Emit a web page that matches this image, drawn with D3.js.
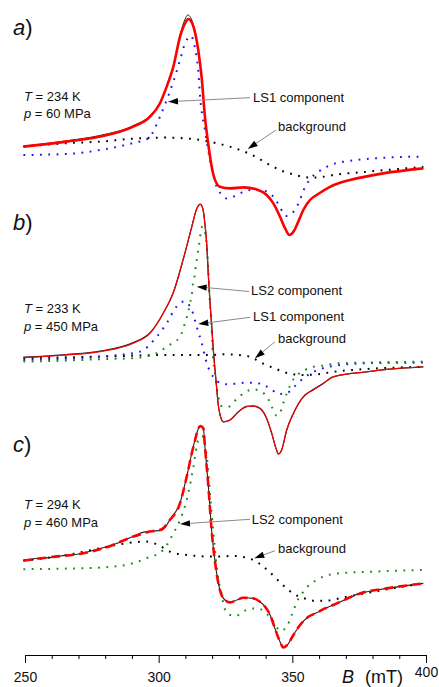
<!DOCTYPE html>
<html><head><meta charset="utf-8">
<script src="https://cdn.jsdelivr.net/npm/d3@7"></script>
<style>
html,body{margin:0;padding:0;background:#fff;}
svg{display:block;font-family:"Liberation Sans",Arial,sans-serif;}
</style></head>
<body><svg id="chart" width="439" height="687"></svg>
<script>
// ---- Data: [B (mT), intensity (a.u.)] ----
// panel a) T = 234 K, p = 60 MPa
const aExp = [[249.4,6.9],[265.6,9.6],[278.1,12.3],[290.5,17.2],[296.8,22.2],[300.5,28.8],[303.0,37],[305.5,47.2],[308.0,62.5],[309.9,70.5],[310.9,72.5],[313.0,67.5],[314.8,55.5],[316.1,41],[317.3,21.7],[318.6,7.5],[320.4,-7],[322.9,-13.4],[326.7,-14.2],[331.7,-13.7],[336.7,-14.7],[340.4,-17.5],[342.9,-21.7],[345.4,-28.4],[347.3,-34.2],[348.9,-37.5],[350.4,-35.9],[352.2,-30.9],[354.1,-25],[356.6,-20],[359.1,-17.5],[364.1,-13.4],[367.8,-11.4],[371.6,-10],[384.0,-6.7],[399.0,-4.2]];
const aFit = [[249.4,6.7],[265.6,9.2],[278.1,11.7],[290.5,16.7],[296.8,21.7],[300.5,28.4],[303.0,36.7],[305.5,46.7],[308.0,61.7],[309.9,68.4],[311.1,70.5],[313.0,66.7],[314.8,55],[316.1,41],[317.3,21.7],[318.6,7.5],[320.4,-7],[322.9,-13.4],[326.7,-14.2],[331.7,-13.7],[336.7,-14.7],[340.4,-17.5],[342.9,-21.7],[345.4,-28.4],[347.3,-34.2],[348.9,-37.5],[350.4,-35.9],[352.2,-30.9],[354.1,-25],[356.6,-20],[359.1,-17.5],[364.1,-13.4],[367.8,-11.4],[371.6,-10],[384.0,-6.7],[399.0,-4.2]];
const aLS1 = [[249.4,2.5],[265.6,3],[278.1,5],[290.5,8.5],[296.1,10.8],[298.6,15.8],[300.5,21.7],[303.0,30],[305.5,39.2],[308.0,50],[309.9,58.4],[312.0,62],[313.6,56],[314.8,45],[315.5,31.7],[317.3,15],[319.2,0],[321.7,-13.4],[323.3,-17],[325.4,-19.2],[328.7,-17.9],[331.7,-15.9],[334.8,-15],[337.9,-15],[341.0,-16.2],[343.8,-20],[345.6,-24.2],[347.6,-28],[350.4,-25.9],[352.2,-22],[354.7,-13.7],[356.6,-9.7],[359.7,-5.9],[362.9,-3.4],[366.0,-1.7],[369.0,-0.9],[381.6,0.9],[397.8,1.7]];
const aBg = [[249.4,6.7],[265.6,8.4],[278.1,9.2],[293.0,10.9],[303.0,11.2],[315.5,10],[321.7,8.4],[327.3,6.4],[330.4,5],[333.5,3.4],[336.7,1.4],[339.8,-1.2],[342.9,-3.4],[346.0,-5.4],[349.1,-6.7],[352.2,-7.9],[356.6,-8.8],[361.6,-8.4],[365.3,-7.5],[377.8,-5.9],[399.0,-3.4]];
// panel b) T = 233 K, p = 450 MPa
const bExp = [[249.4,3.9],[265.6,5.2],[278.1,6.9],[290.5,11.2],[296.8,16.1],[301.7,25.9],[305.5,36.2],[309.2,52.9],[312.4,69.2],[314.2,78],[315.6,80.4],[316.7,77],[317.3,70.5],[318.0,60],[318.6,44.5],[319.2,31.5],[319.8,20],[320.4,8.5],[321.7,-11.5],[322.3,-20],[322.9,-24.5],[324.2,-28.4],[326.7,-27.5],[329.2,-24.2],[332.9,-20.7],[335.4,-20.5],[337.9,-21.7],[340.4,-26.7],[342.3,-34.2],[343.9,-41.7],[344.8,-44.5],[346.0,-42.5],[347.9,-32.5],[350.4,-24.2],[354.1,-15.9],[357.8,-12.3],[361.6,-9.2],[365.3,-5.9],[377.8,-3.4],[385.3,-2.2],[399.0,-0.9]];
const bFit = [[249.4,3.7],[265.6,5],[278.1,6.7],[290.5,10.9],[296.8,15.9],[301.7,25.9],[305.5,36.5],[309.2,52.9],[312.4,69.2],[314.2,78],[315.6,80.3],[316.7,77],[317.3,70.5],[318.0,60],[318.6,44.5],[319.2,31.5],[319.8,20],[320.4,8.5],[321.7,-11.5],[322.3,-20],[322.9,-24.5],[324.2,-28.4],[326.7,-27.5],[329.2,-24.2],[332.9,-20.9],[335.4,-20.5],[337.9,-21.7],[340.4,-26.7],[342.3,-34.2],[343.9,-41.7],[344.8,-44.5],[346.0,-42.5],[347.9,-32.5],[350.4,-24.2],[354.1,-15.9],[357.8,-12.5],[361.6,-9.2],[365.3,-5.9],[377.8,-3.4],[385.3,-2.2],[399.0,-0.9]];
const bLS2 = [[249.4,1.7],[265.6,2.2],[278.1,2.9],[290.4,3.4],[299.3,5.9],[303.0,9.2],[308.0,14.2],[310.2,22.5],[311.1,26.7],[311.7,30.9],[312.4,35],[312.7,39.5],[313.3,43.4],[313.7,47.5],[314.2,51.7],[314.6,55.9],[315.1,60],[315.5,64.2],[316.1,68.7],[316.4,69.3],[317.0,68],[317.7,63.5],[318.1,57.5],[318.6,46.5],[318.9,38.5],[319.2,30],[319.6,25],[320.3,4.2],[321.1,-4.2],[321.7,-10.9],[322.3,-15.9],[323.3,-20.4],[326.0,-20.9],[329.2,-17],[332.3,-13.7],[335.4,-12.2],[338.5,-13.4],[341.0,-17],[342.3,-20.9],[344.2,-25.4],[346.0,-22],[346.9,-17.9],[348.1,-13.7],[349.4,-9.5],[351.9,-5],[354.7,-2.5],[357.8,-0.9],[361.0,-0.4],[367.8,0.9],[377.8,1.2],[399.0,1.7]];
const bLS1 = [[249.4,2.5],[278.1,4.2],[293.0,6.7],[299.3,14.2],[303.0,20.9],[306.7,29.2],[309.6,31.8],[312.4,27.5],[314.2,19.2],[316.1,10.9],[318.0,0.9],[320.4,-5.9],[323.6,-9.2],[326.3,-9.7],[329.4,-9.2],[332.6,-8.9],[335.7,-8.9],[338.8,-9.7],[341.9,-11.9],[345.0,-14.5],[348.1,-13.9],[351.1,-10.4],[354.1,-6.7],[357.2,-3.9],[360.3,-2.2],[363.5,-0.9],[377.8,0.9],[399.0,1.2]];
const bBg = [[249.4,3.4],[278.1,4.2],[303.0,5],[320.4,5],[324.2,5.4],[334.2,4.2],[337.3,2],[340.2,0],[343.5,-1.7],[346.6,-3.4],[349.8,-4.5],[352.9,-5],[359.1,-4.7],[365.3,-3.4],[377.8,-2],[399.0,-0.9]];
// panel c) T = 294 K, p = 460 MPa
const cExp = [[249.4,9.7],[255.0,10.9],[259.4,11.2],[265.0,12.3],[271.8,13.4],[276.0,15],[280.6,16.6],[285.0,18.6],[290.5,21.9],[294.0,23.8],[296.8,24.4],[301.1,24.8],[302.5,26.5],[304.2,30.2],[308.0,38.6],[310.5,51.7],[313.0,66.9],[315.6,77.2],[316.7,76],[317.3,66.7],[318.6,46.7],[319.8,25],[321.5,5],[322.9,-5],[324.8,-10],[326.7,-11.2],[329.2,-10],[331.7,-8.9],[335.4,-9.2],[337.9,-10.9],[339.8,-13.4],[341.7,-17.5],[343.5,-24.2],[345.4,-30.9],[346.6,-33.7],[348.1,-32.5],[350.4,-27.5],[352.9,-22.5],[356.0,-18.4],[359.1,-16.4],[362.2,-14.2],[365.3,-12.5],[375.3,-6.7],[385.3,-4.2],[399.0,-1.7]];
const cFit = [[249.4,9.7],[259.4,11.4],[271.8,13.4],[280.6,16.4],[290.5,21.7],[296.8,24.2],[301.1,25.4],[304.2,30],[308.0,38.4],[310.5,51.7],[313.0,66.7],[315.6,77],[316.7,75.9],[317.3,66.7],[318.6,46.7],[319.8,25],[321.5,5],[322.9,-5],[324.8,-10],[326.7,-11.2],[329.2,-10],[331.7,-8.9],[335.4,-9.2],[337.9,-10.9],[339.8,-13.4],[341.7,-17.5],[343.5,-24.2],[345.4,-30.9],[346.6,-33.7],[348.1,-32.5],[350.4,-27.5],[352.9,-22.5],[356.0,-18.4],[359.1,-16.4],[362.2,-14.2],[365.3,-12.5],[375.3,-6.7],[385.3,-4.2],[399.0,-1.7]];
const cLS2 = [[249.4,5.4],[265.6,5.7],[278.1,6.2],[289.3,8],[295.5,10.9],[301.7,15],[305.5,23.4],[308.0,30],[311.1,43.4],[313.0,56.7],[314.8,70],[316.2,72],[318.0,61.7],[319.8,33.4],[320.9,17.5],[321.9,4.2],[322.3,0],[323.2,-4.7],[324.4,-13],[326.1,-17.2],[328.9,-17.9],[332.0,-15.5],[335.2,-14.2],[338.3,-14.7],[340.6,-17.2],[343.3,-21.4],[345.4,-25.4],[347.9,-23.7],[349.1,-19.7],[350.4,-15.4],[351.6,-11.2],[353.5,-7],[356.0,-2.9],[359.1,0],[362.2,2],[367.8,3.4],[380.3,4.2],[399.0,5]];
const cBg = [[249.4,9.7],[265.6,12.5],[278.1,15.9],[288.0,18.4],[295.5,19.2],[300.5,17],[304.2,14.2],[310.5,12.5],[320.4,11.7],[327.9,12],[335.4,10],[339.1,6.7],[342.9,2.2],[345.8,-1.7],[348.9,-5.4],[352.0,-8],[355.4,-9.5],[358.5,-10.4],[361.6,-10.4],[370.3,-8.4],[384.0,-5],[399.0,-1.7]];
const majorTicks = [250, 300, 350, 400];
const minorTicks = [260, 270, 280, 290, 310, 320, 330, 340, 360, 370, 380, 390];
const panelLabels = ["a", "b", "c"];
const conditions = [["234 K","60 MPa"],["233 K","450 MPa"],["294 K","460 MPa"]];

// ---- Drawing ----
const svg = d3.select("#chart");
const x = d3.scaleLinear().domain([250, 400]).range([25, 426]);
const axisY = 655;
const panelTop = [0, 205, 420];
const yScales = panelTop.map(t => d3.scaleLinear().domain([-50, 80]).range([t + 260, t]));

const RED = "#ff0000", BLUE = "#1515ff", GREEN = "#1a8a1a", BLK = "#000";
const dot = "1.8 6.5";

function draw(data, ys, color, width, dash) {
  const line = d3.line().x(d => x(d[0])).y(d => ys(d[1])).curve(d3.curveMonotoneX);
  const p = svg.append("path").datum(data).attr("d", line)
    .attr("fill", "none").attr("stroke", color).attr("stroke-width", width)
    .attr("stroke-linejoin", "round");
  if (dash) p.attr("stroke-dasharray", dash);
  return p;
}

// panel a
draw(aBg, yScales[0], BLK, 2, dot);
draw(aLS1, yScales[0], BLUE, 2, dot);
draw(aExp, yScales[0], "#222", 1);
draw(aFit, yScales[0], RED, 2.6);
// panel b
draw(bBg, yScales[1], BLK, 2, dot);
draw(bLS1, yScales[1], BLUE, 2, dot);
draw(bLS2, yScales[1], GREEN, 2, dot);
draw(bExp, yScales[1], "#222", 1.3);
draw(bFit, yScales[1], RED, 1.1);
// panel c
draw(cBg, yScales[2], BLK, 2, dot);
draw(cLS2, yScales[2], GREEN, 2, dot);
draw(cExp, yScales[2], "#222", 1.1);
draw(cFit, yScales[2], RED, 2.6, "9 5");

// x axis
const gAx = svg.append("g").attr("transform", `translate(0,${axisY})`);
gAx.call(d3.axisBottom(x).tickValues(minorTicks).tickSizeInner(4).tickSizeOuter(0).tickFormat(""));
const gMaj = svg.append("g").attr("transform", `translate(0,${axisY})`);
gMaj.call(d3.axisBottom(x).tickValues(majorTicks).tickSizeInner(8).tickSizeOuter(0).tickFormat(d3.format("d")));
gMaj.select(".domain").attr("stroke", "#000");
gMaj.selectAll("text").attr("y", 17).attr("font-size", 14).attr("font-family", "Liberation Sans, Arial, sans-serif").attr("fill", "#111");
gMaj.selectAll(".tick").filter(d => d === 400).select("text").attr("y", 12);
svg.selectAll(".tick line").attr("stroke", "#000");

const title = svg.append("text").attr("y", 683).attr("font-size", 18).attr("fill", "#111");
title.append("tspan").attr("x", 342).attr("font-style", "italic").text("B");
title.append("tspan").attr("x", 365).text("(mT)");

// panel labels and conditions
const labY = [34.5, 229.5, 451.5];
const condY = [100.7, 313.3, 509.3];
panelLabels.forEach((l, i) => {
  const t = svg.append("text").attr("x", 13).attr("y", labY[i]).attr("font-size", 22).attr("fill", "#111");
  t.append("tspan").attr("font-style", "italic").text(l);
  t.append("tspan").text(")");
  const c1 = svg.append("text").attr("x", 24).attr("y", condY[i]).attr("font-size", 13).attr("fill", "#111");
  c1.append("tspan").attr("font-style", "italic").text("T");
  c1.append("tspan").text(" = " + conditions[i][0]);
  const c2 = svg.append("text").attr("x", 24).attr("y", condY[i] + 17.3).attr("font-size", 13).attr("fill", "#111");
  c2.append("tspan").attr("font-style", "italic").text("p");
  c2.append("tspan").text(" = " + conditions[i][1]);
});

// annotations: [text, textX, baseline, lineStart x,y, tip x,y]
const notes = [
  ["LS1 component", 253, 101.5, 250, 97.7, 168, 101.7],
  ["background", 278, 131, 276, 130, 247.7, 149],
  ["LS2 component", 251, 294.5, 249, 291.5, 196.7, 286.7],
  ["LS1 component", 253, 320.7, 250, 317.3, 198.3, 324],
  ["background", 278, 342.7, 275, 341.7, 255, 358.3],
  ["LS2 component", 251.7, 523.5, 250, 519.3, 180, 524],
  ["background", 278, 552.7, 275, 550.7, 254.3, 558.3]
];
notes.forEach(n => {
  const [txt, tx, ty, x1, y1, x2, y2] = n;
  svg.append("text").attr("x", tx).attr("y", ty).attr("font-size", 13).attr("fill", "#111").text(txt);
  const ang = Math.atan2(y2 - y1, x2 - x1);
  const L = 10, W = 3.2;
  const bx = x2 - L * Math.cos(ang), by = y2 - L * Math.sin(ang);
  svg.append("line").attr("x1", x1).attr("y1", y1).attr("x2", bx).attr("y2", by)
    .attr("stroke", "#8a8a8a").attr("stroke-width", 1);
  const px = -Math.sin(ang) * W, py = Math.cos(ang) * W;
  svg.append("path").attr("d", `M${x2},${y2}L${bx + px},${by + py}L${bx - px},${by - py}Z`).attr("fill", "#000");
});
</script></body></html>
